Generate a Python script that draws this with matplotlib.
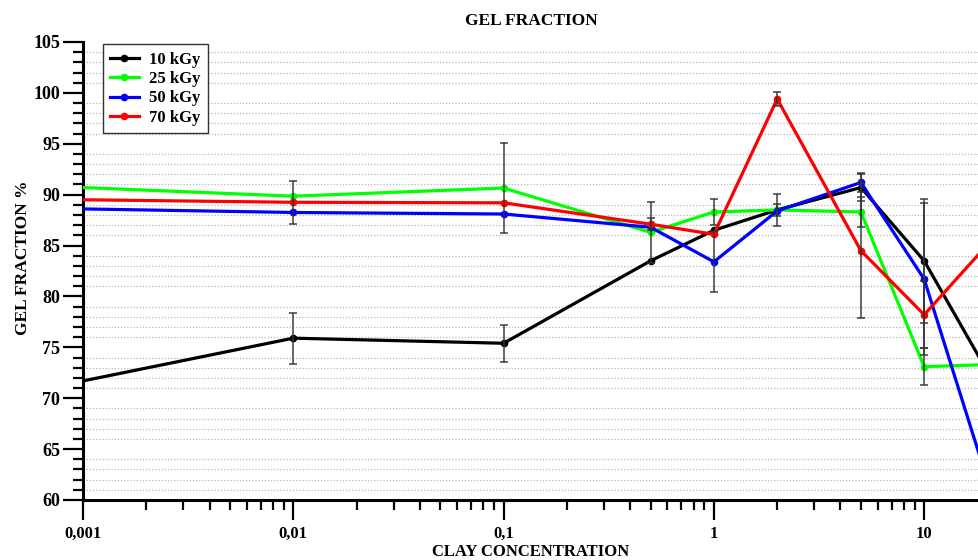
#!/usr/bin/env python3

import numpy as np
import matplotlib
matplotlib.use("Agg")
import matplotlib.pyplot as plt
from matplotlib.ticker import MultipleLocator, LogLocator, FixedLocator, FixedFormatter

plt.rcParams['font.family'] = ['Liberation Serif', 'DejaVu Serif']
plt.rcParams['font.weight'] = 'bold'

# clay concentration (last point lies beyond the visible axis)
conc = [0.001, 0.01, 0.1, 0.5, 1, 2, 5, 10, 20]

labels = ["10 kGy", "25 kGy", "50 kGy", "70 kGy"]
colors = ["#000000", "#00ff00", "#0000ff", "#ff0000"]

gel_10 = [71.7, 75.9, 75.4, 83.5, 86.5, 88.5, 90.7, 83.5, 72.6]
gel_25 = [90.7, 89.85, 90.65, 86.3, 88.3, 88.5, 88.3, 73.1, 73.3]
gel_50 = [88.6, 88.25, 88.1, 86.8, 83.4, 88.4, 91.2, 81.7, 61.9]
gel_70 = [89.5, 89.25, 89.2, 87.1, 86.1, 99.4, 84.5, 78.2, 85.1]

# error bars (0 = none drawn)
err_10 = [0, 2.5, 1.8, 0, 0, 0.6, 1.3, 6.1, 0]
err_25 = [0, 0, 4.45, 3.0, 1.25, 1.55, 1.5, 1.8, 0]
err_50 = [0, 0, 0, 0, 3.0, 0, 0.95, 7.5, 0]
err_70 = [0, 2.1, 0, 0.6, 0, 0.65, 6.6, 3.3, 0]

xtick_vals = [0.001, 0.01, 0.1, 1, 10]
xtick_labels = ["0,001", "0,01", "0,1", "1", "10"]

fig = plt.figure(figsize=(9.79, 5.6), dpi=100)
ax = fig.add_axes([83 / 979, 60 / 560, 896 / 979, 458 / 560])

x = np.array(conc)
series = [gel_10, gel_25, gel_50, gel_70]
errs = [err_10, err_25, err_50, err_70]

for y, c, lab in zip(series, colors, labels):
    ax.plot(x, y, color=c, lw=2.3, marker='o', ms=4.5, label=lab,
            markevery=list(range(1, len(x))), zorder=3)

for y, e in zip(series, errs):
    y = np.array(y)
    e = np.array(e)
    m = e > 0
    ax.errorbar(x[m], y[m], yerr=e[m], fmt='none', ecolor='#333333',
                elinewidth=1.3, capsize=3, capthick=1.3, alpha=0.8, zorder=4)

ax.set_xscale('log')
ax.set_xlim(0.001, 10 ** (1 + 55 / 211))
ax.set_ylim(60, 105)

ax.xaxis.set_major_locator(FixedLocator(xtick_vals))
ax.xaxis.set_major_formatter(FixedFormatter(xtick_labels))
ax.xaxis.set_minor_locator(LogLocator(base=10, subs=np.arange(2, 10)))
ax.yaxis.set_major_locator(MultipleLocator(5))
ax.yaxis.set_minor_locator(MultipleLocator(1))

ax.yaxis.grid(True, which='minor', linestyle=(0, (1, 1.5)), color='#b8b8b8', lw=0.9)
ax.set_axisbelow(True)

for s in ['top', 'right']:
    ax.spines[s].set_visible(False)
for s in ['left', 'bottom']:
    ax.spines[s].set_linewidth(2.2)

ax.tick_params(which='major', direction='out', length=14.5, width=1.6, labelsize=13)
ax.tick_params(which='minor', direction='out', length=7.5, width=1.6)
ax.tick_params(axis='x', which='major', pad=4, labelsize=12)
ax.tick_params(axis='y', which='major', pad=2)

ax.set_title("GEL FRACTION", fontsize=12.5, fontweight='bold', pad=12)
ax.set_xlabel("CLAY CONCENTRATION", fontsize=12, fontweight='bold', labelpad=2)
ax.set_ylabel("GEL FRACTION %", fontsize=12.5, fontweight='bold')
ax.yaxis.set_label_coords(-0.058, 0.53)

leg = ax.legend(loc='upper left', bbox_to_anchor=(0.022, 0.995), borderaxespad=0,
                fontsize=12, handlelength=1.7, labelspacing=0.2, fancybox=False,
                framealpha=1, edgecolor='#333333', borderpad=0.45, handletextpad=0.6)
leg.get_frame().set_linewidth(1.0)

fig.savefig("out.png", dpi=100)
